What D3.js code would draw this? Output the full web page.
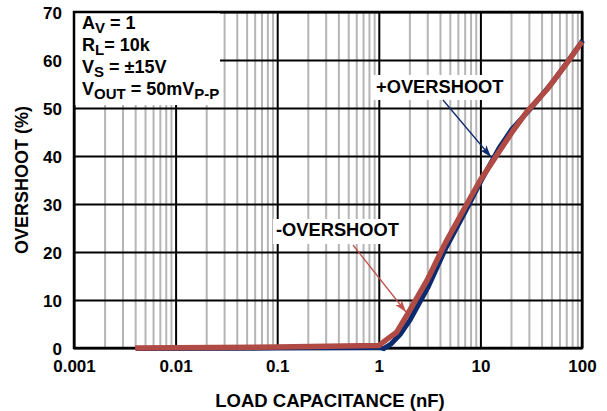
<!DOCTYPE html>
<html>
<head>
<meta charset="utf-8">
<script src="https://cdn.jsdelivr.net/npm/d3@7"></script>
<style>
  body { margin: 0; background: #fff; }
  svg { font-family: "Liberation Sans", Arial, sans-serif; font-weight: bold; }
</style>
</head>
<body>
<script>
// data
const xDecades = [0.001, 0.01, 0.1, 1, 10, 100]
const xTickLabels = ["0.001", "0.01", "0.1", "1", "10", "100"]
const yTicks = [0, 10, 20, 30, 40, 50, 60, 70]

const posCap = [0.004, 0.1, 1, 1.1, 1.3, 1.6, 2, 3, 4.5, 7.4, 10, 15, 20, 30, 50, 70, 100]
const posOvershoot = [0, 0.1, 0.2, 0, 1, 3, 6, 12.8, 21, 29.6, 35, 41.8, 45.7, 49.8, 55.4, 59.6, 64.2]

const negCap = [0.004, 0.1, 1, 1.2, 1.5, 1.9, 3, 4.5, 7.4, 10, 15.6, 21, 28.6, 45, 70.7, 100]
const negOvershoot = [0, 0.2, 0.5, 1.8, 3.3, 6.9, 14.2, 21.8, 30.1, 35, 41.2, 45.3, 49.2, 53.8, 59.3, 63.8]

const w = 607, h = 411
const mLeft = 74, mRight = 582, mTop = 12, mBottom = 348

const svg = d3.select('body').append('svg')
    .attr('width', w)
    .attr('height', h)

const x = d3.scaleLog().domain([0.001, 100]).range([mLeft, mRight])
const y = d3.scaleLinear().domain([0, 70]).range([mBottom, mTop])

const minorTicks = []
xDecades.slice(0, -1).forEach(d => {
    for (let k = 2; k <= 9; k++) minorTicks.push(d * k)
})

// minor vertical grid
svg.append('g')
    .attr('transform', `translate(0, ${mBottom})`)
    .call(d3.axisBottom(x).tickValues(minorTicks).tickSize(-(mBottom - mTop)).tickFormat(''))
    .call(g => g.select('.domain').remove())
    .call(g => g.selectAll('line').attr('stroke', '#b5b5b5').attr('stroke-width', 2))

// major grid
svg.append('g')
    .attr('transform', `translate(0, ${mBottom})`)
    .call(d3.axisBottom(x).tickValues(xDecades).tickSize(-(mBottom - mTop)).tickFormat(''))
    .call(g => g.select('.domain').remove())
    .call(g => g.selectAll('line').attr('stroke', '#000').attr('stroke-width', 2))

svg.append('g')
    .attr('transform', `translate(${mLeft}, 0)`)
    .call(d3.axisLeft(y).tickValues(yTicks).tickSize(-(mRight - mLeft)).tickFormat(''))
    .call(g => g.select('.domain').remove())
    .call(g => g.selectAll('line').attr('stroke', '#000').attr('stroke-width', 2))

// white box behind conditions text
svg.append('rect')
    .attr('x', mLeft + 1).attr('y', mTop + 1)
    .attr('width', 145).attr('height', 92)
    .attr('fill', '#fff')

// frame
svg.append('rect')
    .attr('x', mLeft).attr('y', mTop)
    .attr('width', mRight - mLeft).attr('height', mBottom - mTop)
    .attr('fill', 'none').attr('stroke', '#000').attr('stroke-width', 2.5)

// tick labels
svg.append('g')
    .attr('transform', `translate(0, ${mBottom + 9})`)
    .call(d3.axisBottom(x).tickValues(xDecades).tickSize(0).tickFormat((d, i) => xTickLabels[i]))
    .call(g => g.select('.domain').remove())
    .call(g => g.selectAll('text')
        .attr('font-size', 17).attr('font-family', '"Liberation Sans", Arial, sans-serif')
        .attr('font-weight', 'bold').attr('fill', '#000').attr('dy', '0.71em'))

svg.append('g')
    .attr('transform', `translate(${mLeft - 9}, 1)`)
    .call(d3.axisLeft(y).tickValues(yTicks).tickSize(0).tickFormat(d3.format('d')))
    .call(g => g.select('.domain').remove())
    .call(g => g.selectAll('text')
        .attr('font-size', 17).attr('font-family', '"Liberation Sans", Arial, sans-serif')
        .attr('font-weight', 'bold').attr('fill', '#000'))

// axis titles
svg.append('text')
    .attr('x', 330).attr('y', 407)
    .attr('text-anchor', 'middle')
    .attr('font-size', 18.5)
    .text('LOAD CAPACITANCE (nF)')

svg.append('text')
    .attr('transform', `translate(28, 180) rotate(-90)`)
    .attr('text-anchor', 'middle')
    .attr('font-size', 18)
    .text('OVERSHOOT (%)')

// conditions
const cond = svg.append('g').attr('font-size', 18)
const condLines = [
    ['A', 'V', ' = 1', ''],
    ['R', 'L', '= 10k', ''],
    ['V', 'S', ' = ±15V', ''],
    ['V', 'OUT', ' = 50mV', 'P-P']
]
condLines.forEach((c, i) => {
    const t = cond.append('text').attr('x', 82).attr('y', 29 + i * 22)
    t.append('tspan').text(c[0])
    t.append('tspan').attr('font-size', 15).attr('dy', 4).text(c[1])
    t.append('tspan').attr('dy', -4).text(c[2])
    if (c[3]) t.append('tspan').attr('font-size', 15).attr('dy', 4).text(c[3])
})

// curves
const line = d3.line()
    .x(d => x(d[0]))
    .y(d => y(d[1]))

svg.append('path')
    .datum(d3.zip(posCap, posOvershoot))
    .attr('d', line)
    .attr('fill', 'none')
    .attr('stroke', '#0c2a6e')
    .attr('stroke-width', 5)
    .attr('transform', 'translate(0.8, 0.6)')

svg.append('path')
    .datum(d3.zip(negCap, negOvershoot))
    .attr('d', line)
    .attr('fill', 'none')
    .attr('stroke', '#b04a44')
    .attr('stroke-width', 5.5)
    .attr('stroke-linejoin', 'round')

// labels with arrows
const defs = svg.append('defs')
function marker(id, color) {
    defs.append('marker')
        .attr('id', id)
        .attr('viewBox', '0 0 12 8')
        .attr('refX', 12).attr('refY', 4)
        .attr('markerWidth', 12).attr('markerHeight', 8)
        .attr('markerUnits', 'userSpaceOnUse')
        .attr('orient', 'auto')
        .append('path')
        .attr('d', 'M0,0 L12,4 L0,8 L3,4 Z')
        .attr('fill', color)
}
marker('arrowBlue', '#0c2a6e')
marker('arrowRed', '#c0504a')

svg.append('rect').attr('x', 372).attr('y', 75).attr('width', 133).attr('height', 25).attr('fill', '#fff')
svg.append('text').attr('x', 376).attr('y', 93).attr('font-size', 18.3).text('+OVERSHOOT')
svg.append('line')
    .attr('x1', 443).attr('y1', 100).attr('x2', 491).attr('y2', 157)
    .attr('stroke', '#0c2a6e').attr('stroke-width', 1.3)
    .attr('marker-end', 'url(#arrowBlue)')

svg.append('rect').attr('x', 273).attr('y', 219).attr('width', 135).attr('height', 25).attr('fill', '#fff')
svg.append('text').attr('x', 276).attr('y', 236).attr('font-size', 18.3).text('-OVERSHOOT')
svg.append('line')
    .attr('x1', 353).attr('y1', 245).attr('x2', 406).attr('y2', 312)
    .attr('stroke', '#c0504a').attr('stroke-width', 1.3)
    .attr('marker-end', 'url(#arrowRed)')
</script>
</body>
</html>
